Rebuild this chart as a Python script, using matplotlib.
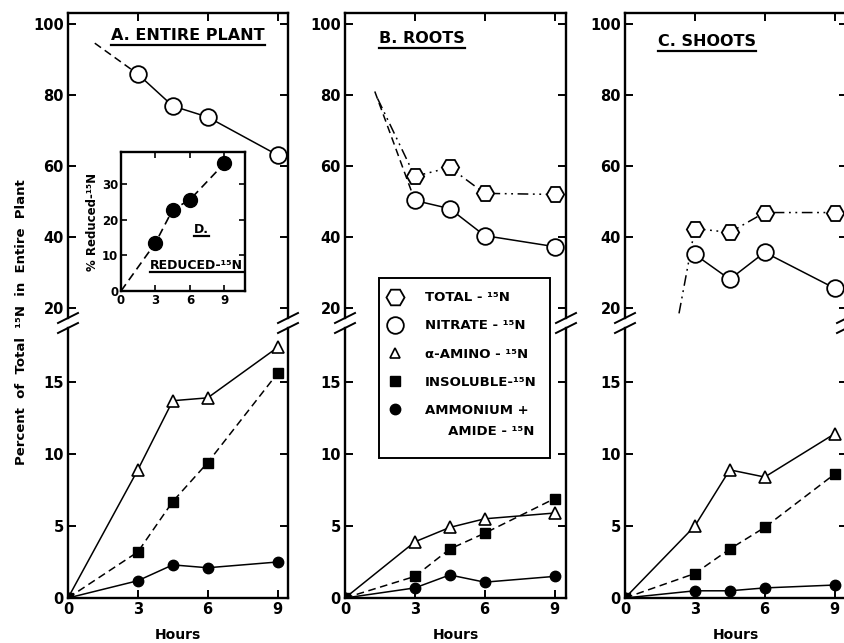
import matplotlib

matplotlib.use("Agg")
import matplotlib.pyplot as plt
import matplotlib.transforms as mtransforms
from matplotlib.lines import Line2D

plt.rcParams["font.family"] = ["DejaVu Sans"]
plt.rcParams["font.weight"] = "bold"
plt.rcParams["axes.labelweight"] = "bold"

# time points (h)
hours = [3, 4.5, 6, 9]
hours0 = [0, 3, 4.5, 6, 9]

# A. entire plant
a_nitrate = [85.9, 76.9, 73.8, 63.1]
a_nitrate_ext_x = [1.15, 3]
a_nitrate_ext_y = [94.6, 85.9]
a_amino = [0, 8.9, 13.7, 13.9, 17.4]
a_insoluble = [0, 3.2, 6.7, 9.4, 15.6]
a_ammonium = [0, 1.2, 2.3, 2.1, 2.5]

# B. roots
b_total = [57.1, 59.6, 52.3, 52.0]
b_total_ext_x = [1.4, 3]
b_total_ext_y = [79.0, 57.1]
b_nitrate = [50.3, 48.0, 40.4, 37.3]
b_nitrate_ext_x = [1.28, 3]
b_nitrate_ext_y = [81.0, 50.3]
b_amino = [0, 3.9, 4.9, 5.5, 5.9]
b_insoluble = [0, 1.5, 3.4, 4.5, 6.9]
b_ammonium = [0, 0.7, 1.6, 1.1, 1.5]

# C. shoots
c_total = [42.4, 41.3, 46.9, 46.9]
c_total_ext_x = [2.32, 3]
c_total_ext_y = [18.5, 42.4]
c_nitrate = [35.1, 28.1, 35.7, 25.6]
c_amino = [0, 5.0, 8.9, 8.4, 11.4]
c_insoluble = [0, 1.7, 3.4, 4.9, 8.6]
c_ammonium = [0, 0.5, 0.5, 0.7, 0.9]

# D. reduced-15N in entire plant
d_hours = [0, 3, 4.5, 6, 9]
d_reduced = [0, 13.5, 22.8, 25.6, 35.8]

titles = ["A. ENTIRE PLANT", "B. ROOTS", "C. SHOOTS"]
legend_labels = ["TOTAL - ¹⁵N", "NITRATE - ¹⁵N", "α-AMINO - ¹⁵N",
                 "INSOLUBLE-¹⁵N", "AMMONIUM +", "     AMIDE - ¹⁵N"]

W, H = 844, 643
fig = plt.figure(figsize=(W / 100, H / 100), dpi=100)


def px_axes(left, top, width, height):
    return fig.add_axes([left / W, 1 - (top + height) / H, width / W, height / H])


SPINE = 1.7
dash_dot2 = (0, (7, 3, 1.2, 3, 1.2, 3))


def style(ax, size=10.5):
    for s in ax.spines.values():
        s.set_linewidth(SPINE)
    ax.tick_params(direction="in", length=6, width=1.4, labelsize=size,
                   top=True, right=True, pad=3)


def breaks(ax, at_top):
    bb = ax.get_position()
    dx = 10 / (bb.width * W)
    dy = 5 / (bb.height * H)
    y0 = 1 if at_top else 0
    for x0 in (0, 1):
        ax.plot([x0 - dx, x0 + dx], [y0 - dy, y0 + dy], color="black",
                lw=1.4, transform=ax.transAxes, clip_on=False)


lefts = [68, 345, 625]
widths = [220, 221, 222]
uppers = []
lowers = []
for left, width in zip(lefts, widths):
    up = px_axes(left, 13, width, 305)
    lo = px_axes(left, 328, width, 270)
    for ax in (up, lo):
        style(ax)
        ax.set_xlim(0, 9.45 * width / 220)
    up.set_ylim(17.2, 103.1)
    up.set_yticks([20, 40, 60, 80, 100])
    up.set_xticks([3, 6, 9])
    up.spines["bottom"].set_visible(False)
    up.tick_params(bottom=False, labelbottom=False)
    lo.set_ylim(0, 18.75)
    lo.set_yticks([0, 5, 10, 15])
    lo.set_xticks([0, 3, 6, 9])
    lo.spines["top"].set_visible(False)
    lo.tick_params(top=False)
    lo.set_xlabel("Hours", fontsize=10, labelpad=8)
    breaks(up, False)
    breaks(lo, True)
    uppers.append(up)
    lowers.append(lo)

open_circle = dict(marker="o", ms=12, mfc="white", mec="black", mew=1.3,
                   color="black", lw=1.1)
hexagon = dict(marker="H", ms=12.5, mfc="white", mec="black", mew=1.3,
               color="black", lw=1.1)
triangle = dict(marker="^", ms=8.5, mfc="white", mec="black", mew=1.2,
                color="black", lw=1.1)
square = dict(marker="s", ms=7, mfc="black", mec="black", color="black",
              lw=1.1, ls=(0, (5, 3)))
dot = dict(marker="o", ms=7.5, mfc="black", mec="black", color="black", lw=1.1)

# A
ua, la = uppers[0], lowers[0]
ua.plot(a_nitrate_ext_x, a_nitrate_ext_y, color="black", lw=1.1, ls=(0, (5, 3)))
ua.plot(hours, a_nitrate, **open_circle)
la.plot(hours0, a_amino, **triangle)
la.plot(hours0, a_insoluble, **square)
la.plot(hours0, a_ammonium, **dot)

# B
ub, lb = uppers[1], lowers[1]
ub.plot(b_nitrate_ext_x, b_nitrate_ext_y, color="black", lw=1.1, ls=(0, (5, 3)))
ub.plot(b_total_ext_x, b_total_ext_y, color="black", lw=1.1, ls=dash_dot2)
ub.plot(hours, b_total, ls=dash_dot2, **hexagon)
ub.plot(hours, b_nitrate, **open_circle)
lb.plot(hours0, b_amino, **triangle)
lb.plot(hours0, b_insoluble, **square)
lb.plot(hours0, b_ammonium, **dot)

# C
uc, lc = uppers[2], lowers[2]
uc.plot(c_total_ext_x, c_total_ext_y, color="black", lw=1.1, ls=dash_dot2)
uc.plot(hours, c_total, ls=dash_dot2, **hexagon)
uc.plot(hours, c_nitrate, **open_circle)
lc.plot(hours0, c_amino, **triangle)
lc.plot(hours0, c_insoluble, **square)
lc.plot(hours0, c_ammonium, **dot)

# panel titles
title_pos = [(0.196, 0.925), (0.155, 0.918), (0.15, 0.905)]
title_texts = []
for ax, title, (tx, ty) in zip(uppers, titles, title_pos):
    title_texts.append(ax.text(tx, ty, title, transform=ax.transAxes,
                               fontsize=11.5, ha="left", va="center"))

# inset D
ins = px_axes(121, 152, 124, 139)
style(ins, size=8.5)
ins.tick_params(length=4, width=1.2, pad=2)
ins.set_xlim(0, 10.8)
ins.set_ylim(0, 39)
ins.set_xticks([0, 3, 6, 9])
ins.set_yticks([0, 10, 20, 30])
ins.plot(d_hours, d_reduced, color="black", lw=1.2, ls=(0, (5, 3)))
ins.plot(d_hours[1:], d_reduced[1:], ls="none", marker="o", ms=10,
         color="black")
ins.set_ylabel("% Reduced-¹⁵N", fontsize=8.5, labelpad=2)
d_text = ins.text(0.59, 0.44, "D.", transform=ins.transAxes, fontsize=9,
                  ha="left", va="center")
r_text = ins.text(0.23, 0.18, "REDUCED-¹⁵N", transform=ins.transAxes,
                  fontsize=9, ha="left", va="center")

# legend
handles = [
    Line2D([], [], ls="none", marker="H", ms=13, mfc="white", mec="black", mew=1.3),
    Line2D([], [], ls="none", marker="o", ms=12, mfc="white", mec="black", mew=1.3),
    Line2D([], [], ls="none", marker="^", ms=7, mfc="white", mec="black", mew=1.2),
    Line2D([], [], ls="none", marker="s", ms=7, color="black"),
    Line2D([], [], ls="none", marker="o", ms=7.5, color="black"),
    Line2D([], [], ls="none"),
]
leg = fig.legend(handles, legend_labels, loc="upper left",
                 bbox_to_anchor=(379 / W, 1 - 278 / H), fontsize=9.5,
                 frameon=True, fancybox=False, edgecolor="black",
                 framealpha=1, borderpad=1.0, labelspacing=1.15,
                 handlelength=0.5, handletextpad=2.0, borderaxespad=0)
leg.get_frame().set_linewidth(1.4)
# second line of the last entry sits closer to the first
amide = leg.get_texts()[5]
amide.set_transform(amide.get_transform()
                    + mtransforms.ScaledTranslation(0, 0.07, fig.dpi_scale_trans))

fig.text(22 / W, 1 - 322 / H, "Percent  of  Total  ¹⁵N  in  Entire  Plant",
         rotation=90, ha="center", va="center", fontsize=9.5)

# underline the lettered labels
fig.canvas.draw()
renderer = fig.canvas.get_renderer()
for t, gap in [(t, 5) for t in title_texts] + [(d_text, 3), (r_text, 3)]:
    bb = t.get_window_extent(renderer)
    y = bb.y0 - gap + 3
    fig.add_artist(Line2D([bb.x0 / W, bb.x1 / W], [y / H, y / H],
                          color="black", lw=1.6))

fig.savefig("out.png", dpi=100, facecolor="white")
